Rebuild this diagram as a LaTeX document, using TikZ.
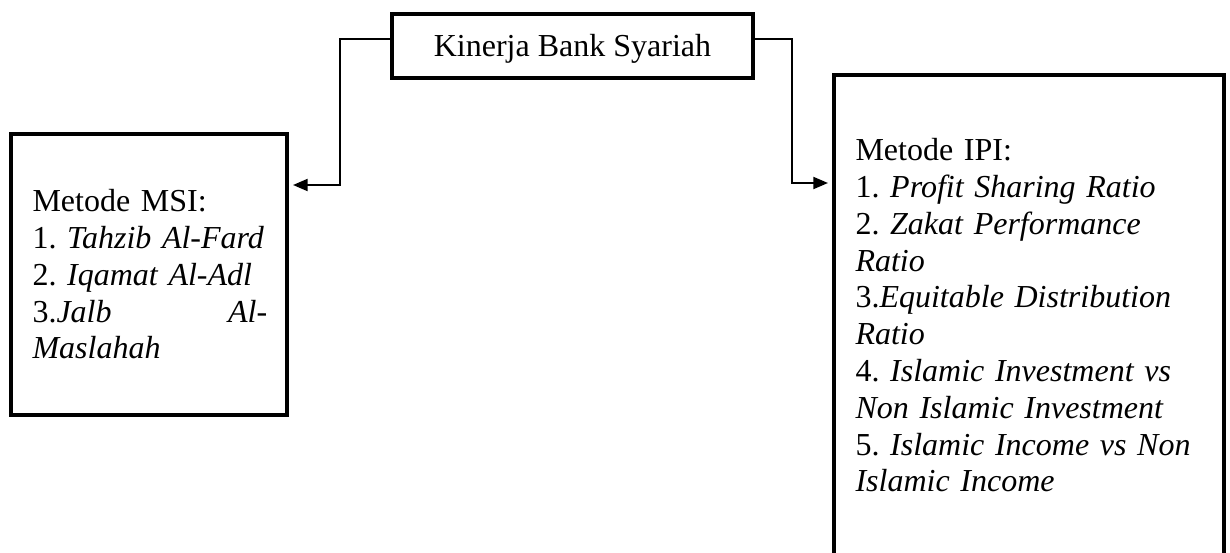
\documentclass[tikz,border=0pt]{standalone}
\usepackage{fontspec}
\setmainfont{Liberation Serif}
\usetikzlibrary{arrows.meta,positioning}
\frenchspacing

\begin{document}
\begin{tikzpicture}[x=0.375pt,y=-0.375pt,
   kotak/.style={draw,line width=1.5pt,inner sep=0pt},
   isi/.style={anchor=north west,inner sep=0pt,align=left,font=\fontsize{12}{13.8}\selectfont},
   panah/.style={line width=0.75pt,shorten >=1.5pt,-{Triangle[length=5.5pt,width=4.5pt]}}]
   \useasboundingbox (0,0) rectangle (1230,553);
   \clip (0,0) rectangle (1230,553);
   \node [kotak,minimum width=135.4pt,minimum height=24pt,text height=9pt,text depth=0.75pt,
          font=\fontsize{12}{13.8}\selectfont] (kinerja) at (572.5,46) {Kinerja Bank Syariah};
   \node [kotak,minimum width=103.5pt,minimum height=105.4pt] (msi) at (149,274.5) {};
   \node [kotak,minimum width=146.25pt,minimum height=212pt] (ipi) at (1029,357.5) {};
   \node [isi,text width=88pt] (msi_txt) at (32,189)
      {Metode MSI:\\
       1. \textit{Tahzib Al-Fard}\\
       2. \textit{Iqamat Al-Adl}\\
       3.\textit{Jalb}\hfill\textit{Al-}\\
       \textit{Maslahah}};
   \node [isi,text width=126pt] (ipi_txt) at (855,138)
      {Metode IPI:\\
       1. \textit{Profit Sharing Ratio}\\
       2. \textit{Zakat Performance}\\
       \textit{Ratio}\\
       3.\textit{Equitable Distribution}\\
       \textit{Ratio}\\
       4. \textit{Islamic Investment vs}\\
       \textit{Non Islamic Investment}\\
       5. \textit{Islamic Income vs Non}\\
       \textit{Islamic Income}};
   \coordinate (kiri) at (340,39);
   \coordinate (kiri_bawah) at (340,185);
   \coordinate (kanan) at (792,39);
   \coordinate (kanan_bawah) at (792,183);
   \draw [panah] (kinerja.west |- kiri) -- (kiri) -- (kiri_bawah) -- (msi.east |- kiri_bawah);
   \draw [panah] (kinerja.east |- kanan) -- (kanan) -- (kanan_bawah) -- (ipi.west |- kanan_bawah);
\end{tikzpicture}
\end{document}
